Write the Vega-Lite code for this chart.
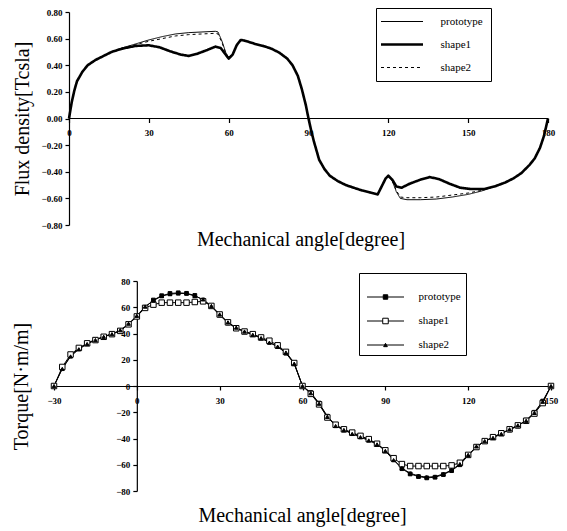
{
  "$schema": "https://vega.github.io/schema/vega-lite/v6.json",
  "background": "white",
  "padding": {"left": 11, "top": 7, "right": 5, "bottom": 2},
  "spacing": 22,
  "resolve": {"legend": {"shape": "independent", "strokeDash": "independent", "fill": "independent", "stroke": "independent"}},
  "config": {
    "view": {"stroke": null},
    "font": "Liberation Serif",
    "axis": {
      "domainColor": "black", "domainWidth": 1.2, "tickColor": "black", "tickWidth": 1.2, "tickSize": 4,
      "labelColor": "black", "labelFont": "Liberation Serif", "labelFontSize": 9, "labelFontWeight": "bold",
      "titleColor": "black", "titleFont": "Liberation Serif", "titleFontSize": 20, "titleFontWeight": "normal",
      "grid": false, "labelFlush": false, "labelOverlap": false
    },
    "legend": {
      "labelFont": "Liberation Serif", "labelFontSize": 11, "labelColor": "black",
      "strokeColor": "black", "fillColor": "white", "padding": 8, "rowPadding": 11
    },
    "title": {"font": "Liberation Serif", "fontSize": 20, "fontWeight": "normal", "color": "black"}
  },
  "datasets": {
    "axisline": [{"angle": 0, "angle2": 180, "B": 0}],
    "flux": [
      {"angle":0,"B":0,"series":"prototype"},{"angle":1,"B":0.12,"series":"prototype"},{"angle":2,"B":0.21,"series":"prototype"},{"angle":3,"B":0.28,"series":"prototype"},{"angle":5,"B":0.35,"series":"prototype"},{"angle":7,"B":0.40,"series":"prototype"},{"angle":10,"B":0.44,"series":"prototype"},{"angle":13,"B":0.47,"series":"prototype"},{"angle":16,"B":0.50,"series":"prototype"},{"angle":20,"B":0.53,"series":"prototype"},{"angle":25,"B":0.56,"series":"prototype"},{"angle":30,"B":0.59,"series":"prototype"},{"angle":35,"B":0.615,"series":"prototype"},{"angle":40,"B":0.635,"series":"prototype"},{"angle":45,"B":0.645,"series":"prototype"},{"angle":50,"B":0.65,"series":"prototype"},{"angle":55,"B":0.655,"series":"prototype"},{"angle":56,"B":0.65,"series":"prototype"},{"angle":57.5,"B":0.58,"series":"prototype"},{"angle":59,"B":0.49,"series":"prototype"},{"angle":60,"B":0.46,"series":"prototype"},{"angle":61.5,"B":0.485,"series":"prototype"},{"angle":63,"B":0.55,"series":"prototype"},{"angle":64.5,"B":0.59,"series":"prototype"},{"angle":66,"B":0.585,"series":"prototype"},{"angle":70,"B":0.56,"series":"prototype"},{"angle":73,"B":0.545,"series":"prototype"},{"angle":76,"B":0.525,"series":"prototype"},{"angle":79,"B":0.495,"series":"prototype"},{"angle":82,"B":0.45,"series":"prototype"},{"angle":84,"B":0.40,"series":"prototype"},{"angle":86,"B":0.32,"series":"prototype"},{"angle":87.5,"B":0.22,"series":"prototype"},{"angle":89,"B":0.10,"series":"prototype"},{"angle":90,"B":0,"series":"prototype"},{"angle":91,"B":-0.09,"series":"prototype"},{"angle":92,"B":-0.17,"series":"prototype"},{"angle":94,"B":-0.31,"series":"prototype"},{"angle":96,"B":-0.38,"series":"prototype"},{"angle":98,"B":-0.43,"series":"prototype"},{"angle":101,"B":-0.47,"series":"prototype"},{"angle":104,"B":-0.50,"series":"prototype"},{"angle":107,"B":-0.52,"series":"prototype"},{"angle":110,"B":-0.54,"series":"prototype"},{"angle":113,"B":-0.555,"series":"prototype"},{"angle":116,"B":-0.57,"series":"prototype"},{"angle":117.5,"B":-0.51,"series":"prototype"},{"angle":119,"B":-0.45,"series":"prototype"},{"angle":120,"B":-0.43,"series":"prototype"},{"angle":121.5,"B":-0.47,"series":"prototype"},{"angle":123,"B":-0.55,"series":"prototype"},{"angle":124.5,"B":-0.60,"series":"prototype"},{"angle":127,"B":-0.61,"series":"prototype"},{"angle":132,"B":-0.61,"series":"prototype"},{"angle":138,"B":-0.605,"series":"prototype"},{"angle":144,"B":-0.59,"series":"prototype"},{"angle":150,"B":-0.57,"series":"prototype"},{"angle":155,"B":-0.545,"series":"prototype"},{"angle":160,"B":-0.51,"series":"prototype"},{"angle":164,"B":-0.48,"series":"prototype"},{"angle":167,"B":-0.45,"series":"prototype"},{"angle":170,"B":-0.41,"series":"prototype"},{"angle":173,"B":-0.35,"series":"prototype"},{"angle":175,"B":-0.30,"series":"prototype"},{"angle":177,"B":-0.22,"series":"prototype"},{"angle":178.5,"B":-0.13,"series":"prototype"},{"angle":180,"B":0,"series":"prototype"},
      {"angle":0,"B":0,"series":"shape1"},{"angle":1,"B":0.12,"series":"shape1"},{"angle":2,"B":0.21,"series":"shape1"},{"angle":3,"B":0.28,"series":"shape1"},{"angle":5,"B":0.35,"series":"shape1"},{"angle":7,"B":0.40,"series":"shape1"},{"angle":10,"B":0.44,"series":"shape1"},{"angle":13,"B":0.47,"series":"shape1"},{"angle":16,"B":0.50,"series":"shape1"},{"angle":20,"B":0.525,"series":"shape1"},{"angle":25,"B":0.545,"series":"shape1"},{"angle":30,"B":0.55,"series":"shape1"},{"angle":34,"B":0.535,"series":"shape1"},{"angle":38,"B":0.505,"series":"shape1"},{"angle":42,"B":0.48,"series":"shape1"},{"angle":45,"B":0.47,"series":"shape1"},{"angle":48,"B":0.485,"series":"shape1"},{"angle":52,"B":0.515,"series":"shape1"},{"angle":55,"B":0.54,"series":"shape1"},{"angle":57,"B":0.53,"series":"shape1"},{"angle":58.5,"B":0.49,"series":"shape1"},{"angle":60,"B":0.45,"series":"shape1"},{"angle":61.5,"B":0.48,"series":"shape1"},{"angle":63,"B":0.55,"series":"shape1"},{"angle":64.5,"B":0.59,"series":"shape1"},{"angle":66,"B":0.585,"series":"shape1"},{"angle":70,"B":0.56,"series":"shape1"},{"angle":73,"B":0.545,"series":"shape1"},{"angle":76,"B":0.525,"series":"shape1"},{"angle":79,"B":0.495,"series":"shape1"},{"angle":82,"B":0.45,"series":"shape1"},{"angle":84,"B":0.40,"series":"shape1"},{"angle":86,"B":0.32,"series":"shape1"},{"angle":87.5,"B":0.22,"series":"shape1"},{"angle":89,"B":0.10,"series":"shape1"},{"angle":90,"B":0,"series":"shape1"},{"angle":91,"B":-0.09,"series":"shape1"},{"angle":92,"B":-0.17,"series":"shape1"},{"angle":94,"B":-0.31,"series":"shape1"},{"angle":96,"B":-0.38,"series":"shape1"},{"angle":98,"B":-0.43,"series":"shape1"},{"angle":101,"B":-0.47,"series":"shape1"},{"angle":104,"B":-0.50,"series":"shape1"},{"angle":107,"B":-0.52,"series":"shape1"},{"angle":110,"B":-0.54,"series":"shape1"},{"angle":113,"B":-0.555,"series":"shape1"},{"angle":116,"B":-0.57,"series":"shape1"},{"angle":117.5,"B":-0.51,"series":"shape1"},{"angle":119,"B":-0.45,"series":"shape1"},{"angle":120,"B":-0.43,"series":"shape1"},{"angle":121.5,"B":-0.46,"series":"shape1"},{"angle":123,"B":-0.51,"series":"shape1"},{"angle":125,"B":-0.52,"series":"shape1"},{"angle":128,"B":-0.49,"series":"shape1"},{"angle":132,"B":-0.46,"series":"shape1"},{"angle":135.5,"B":-0.44,"series":"shape1"},{"angle":139,"B":-0.455,"series":"shape1"},{"angle":143,"B":-0.49,"series":"shape1"},{"angle":147,"B":-0.52,"series":"shape1"},{"angle":151,"B":-0.53,"series":"shape1"},{"angle":156,"B":-0.53,"series":"shape1"},{"angle":160,"B":-0.51,"series":"shape1"},{"angle":164,"B":-0.48,"series":"shape1"},{"angle":167,"B":-0.45,"series":"shape1"},{"angle":170,"B":-0.41,"series":"shape1"},{"angle":173,"B":-0.35,"series":"shape1"},{"angle":175,"B":-0.30,"series":"shape1"},{"angle":177,"B":-0.22,"series":"shape1"},{"angle":178.5,"B":-0.13,"series":"shape1"},{"angle":180,"B":0,"series":"shape1"},
      {"angle":0,"B":0,"series":"shape2"},{"angle":1,"B":0.12,"series":"shape2"},{"angle":2,"B":0.21,"series":"shape2"},{"angle":3,"B":0.28,"series":"shape2"},{"angle":5,"B":0.35,"series":"shape2"},{"angle":7,"B":0.40,"series":"shape2"},{"angle":10,"B":0.44,"series":"shape2"},{"angle":13,"B":0.47,"series":"shape2"},{"angle":16,"B":0.50,"series":"shape2"},{"angle":20,"B":0.53,"series":"shape2"},{"angle":25,"B":0.555,"series":"shape2"},{"angle":30,"B":0.58,"series":"shape2"},{"angle":35,"B":0.60,"series":"shape2"},{"angle":40,"B":0.62,"series":"shape2"},{"angle":45,"B":0.63,"series":"shape2"},{"angle":50,"B":0.635,"series":"shape2"},{"angle":55,"B":0.64,"series":"shape2"},{"angle":56,"B":0.635,"series":"shape2"},{"angle":57.5,"B":0.57,"series":"shape2"},{"angle":59,"B":0.485,"series":"shape2"},{"angle":60,"B":0.455,"series":"shape2"},{"angle":61.5,"B":0.48,"series":"shape2"},{"angle":63,"B":0.55,"series":"shape2"},{"angle":64.5,"B":0.59,"series":"shape2"},{"angle":66,"B":0.585,"series":"shape2"},{"angle":70,"B":0.56,"series":"shape2"},{"angle":73,"B":0.545,"series":"shape2"},{"angle":76,"B":0.525,"series":"shape2"},{"angle":79,"B":0.495,"series":"shape2"},{"angle":82,"B":0.45,"series":"shape2"},{"angle":84,"B":0.40,"series":"shape2"},{"angle":86,"B":0.32,"series":"shape2"},{"angle":87.5,"B":0.22,"series":"shape2"},{"angle":89,"B":0.10,"series":"shape2"},{"angle":90,"B":0,"series":"shape2"},{"angle":91,"B":-0.09,"series":"shape2"},{"angle":92,"B":-0.17,"series":"shape2"},{"angle":94,"B":-0.31,"series":"shape2"},{"angle":96,"B":-0.38,"series":"shape2"},{"angle":98,"B":-0.43,"series":"shape2"},{"angle":101,"B":-0.47,"series":"shape2"},{"angle":104,"B":-0.50,"series":"shape2"},{"angle":107,"B":-0.52,"series":"shape2"},{"angle":110,"B":-0.54,"series":"shape2"},{"angle":113,"B":-0.555,"series":"shape2"},{"angle":116,"B":-0.57,"series":"shape2"},{"angle":117.5,"B":-0.51,"series":"shape2"},{"angle":119,"B":-0.45,"series":"shape2"},{"angle":120,"B":-0.435,"series":"shape2"},{"angle":121.5,"B":-0.47,"series":"shape2"},{"angle":123,"B":-0.54,"series":"shape2"},{"angle":124.5,"B":-0.59,"series":"shape2"},{"angle":127,"B":-0.595,"series":"shape2"},{"angle":132,"B":-0.595,"series":"shape2"},{"angle":138,"B":-0.59,"series":"shape2"},{"angle":144,"B":-0.575,"series":"shape2"},{"angle":150,"B":-0.56,"series":"shape2"},{"angle":155,"B":-0.54,"series":"shape2"},{"angle":160,"B":-0.51,"series":"shape2"},{"angle":164,"B":-0.48,"series":"shape2"},{"angle":167,"B":-0.45,"series":"shape2"},{"angle":170,"B":-0.41,"series":"shape2"},{"angle":173,"B":-0.35,"series":"shape2"},{"angle":175,"B":-0.30,"series":"shape2"},{"angle":177,"B":-0.22,"series":"shape2"},{"angle":178.5,"B":-0.13,"series":"shape2"},{"angle":180,"B":0,"series":"shape2"}
    ],
    "torque": [
      {"angle":-30,"T":0,"series":"prototype"},{"angle":-27,"T":13.5,"series":"prototype"},{"angle":-24,"T":23,"series":"prototype"},{"angle":-21,"T":28.5,"series":"prototype"},{"angle":-18,"T":32.5,"series":"prototype"},{"angle":-15,"T":35.5,"series":"prototype"},{"angle":-12,"T":37.5,"series":"prototype"},{"angle":-9,"T":40,"series":"prototype"},{"angle":-6,"T":42,"series":"prototype"},{"angle":-3,"T":47,"series":"prototype"},{"angle":0,"T":53,"series":"prototype"},{"angle":3,"T":60,"series":"prototype"},{"angle":6,"T":65.5,"series":"prototype"},{"angle":9,"T":68.8,"series":"prototype"},{"angle":12,"T":70.5,"series":"prototype"},{"angle":15,"T":71,"series":"prototype"},{"angle":18,"T":70.6,"series":"prototype"},{"angle":21,"T":69,"series":"prototype"},{"angle":24,"T":65.5,"series":"prototype"},{"angle":27,"T":60.5,"series":"prototype"},{"angle":30,"T":54,"series":"prototype"},{"angle":33,"T":48,"series":"prototype"},{"angle":36,"T":44,"series":"prototype"},{"angle":39,"T":41.5,"series":"prototype"},{"angle":42,"T":39.5,"series":"prototype"},{"angle":45,"T":36.5,"series":"prototype"},{"angle":48,"T":33.5,"series":"prototype"},{"angle":51,"T":30,"series":"prototype"},{"angle":54,"T":25,"series":"prototype"},{"angle":57,"T":17,"series":"prototype"},{"angle":60,"T":0,"series":"prototype"},{"angle":63,"T":-5,"series":"prototype"},{"angle":66,"T":-13,"series":"prototype"},{"angle":69,"T":-23,"series":"prototype"},{"angle":72,"T":-30,"series":"prototype"},{"angle":75,"T":-33.5,"series":"prototype"},{"angle":78,"T":-36,"series":"prototype"},{"angle":81,"T":-38.5,"series":"prototype"},{"angle":84,"T":-41,"series":"prototype"},{"angle":87,"T":-44,"series":"prototype"},{"angle":90,"T":-49,"series":"prototype"},{"angle":93,"T":-56,"series":"prototype"},{"angle":96,"T":-63,"series":"prototype"},{"angle":99,"T":-67,"series":"prototype"},{"angle":102,"T":-69,"series":"prototype"},{"angle":105,"T":-70,"series":"prototype"},{"angle":108,"T":-69.5,"series":"prototype"},{"angle":111,"T":-67.5,"series":"prototype"},{"angle":114,"T":-64.5,"series":"prototype"},{"angle":117,"T":-60,"series":"prototype"},{"angle":120,"T":-53,"series":"prototype"},{"angle":123,"T":-46.5,"series":"prototype"},{"angle":126,"T":-42,"series":"prototype"},{"angle":129,"T":-39,"series":"prototype"},{"angle":132,"T":-36,"series":"prototype"},{"angle":135,"T":-33.5,"series":"prototype"},{"angle":138,"T":-30.5,"series":"prototype"},{"angle":141,"T":-26,"series":"prototype"},{"angle":144,"T":-20,"series":"prototype"},{"angle":147,"T":-11.5,"series":"prototype"},{"angle":150,"T":0,"series":"prototype"},
      {"angle":-30,"T":0,"series":"shape1"},{"angle":-27,"T":14.5,"series":"shape1"},{"angle":-24,"T":24,"series":"shape1"},{"angle":-21,"T":29,"series":"shape1"},{"angle":-18,"T":32.5,"series":"shape1"},{"angle":-15,"T":35,"series":"shape1"},{"angle":-12,"T":37.5,"series":"shape1"},{"angle":-9,"T":39.5,"series":"shape1"},{"angle":-6,"T":42,"series":"shape1"},{"angle":-3,"T":47,"series":"shape1"},{"angle":0,"T":53,"series":"shape1"},{"angle":3,"T":59.5,"series":"shape1"},{"angle":6,"T":62,"series":"shape1"},{"angle":9,"T":63.5,"series":"shape1"},{"angle":12,"T":63.5,"series":"shape1"},{"angle":15,"T":63.5,"series":"shape1"},{"angle":18,"T":63.5,"series":"shape1"},{"angle":21,"T":64,"series":"shape1"},{"angle":24,"T":64.5,"series":"shape1"},{"angle":27,"T":61,"series":"shape1"},{"angle":30,"T":54.5,"series":"shape1"},{"angle":33,"T":48.5,"series":"shape1"},{"angle":36,"T":44,"series":"shape1"},{"angle":39,"T":41.5,"series":"shape1"},{"angle":42,"T":39.5,"series":"shape1"},{"angle":45,"T":37,"series":"shape1"},{"angle":48,"T":34.5,"series":"shape1"},{"angle":51,"T":31,"series":"shape1"},{"angle":54,"T":26,"series":"shape1"},{"angle":57,"T":17.5,"series":"shape1"},{"angle":60,"T":0,"series":"shape1"},{"angle":63,"T":-6,"series":"shape1"},{"angle":66,"T":-14,"series":"shape1"},{"angle":69,"T":-24,"series":"shape1"},{"angle":72,"T":-29.5,"series":"shape1"},{"angle":75,"T":-33,"series":"shape1"},{"angle":78,"T":-35.5,"series":"shape1"},{"angle":81,"T":-38,"series":"shape1"},{"angle":84,"T":-40.5,"series":"shape1"},{"angle":87,"T":-44,"series":"shape1"},{"angle":90,"T":-49,"series":"shape1"},{"angle":93,"T":-55,"series":"shape1"},{"angle":96,"T":-59.5,"series":"shape1"},{"angle":99,"T":-61,"series":"shape1"},{"angle":102,"T":-61,"series":"shape1"},{"angle":105,"T":-61,"series":"shape1"},{"angle":108,"T":-61,"series":"shape1"},{"angle":111,"T":-61,"series":"shape1"},{"angle":114,"T":-60.5,"series":"shape1"},{"angle":117,"T":-58.5,"series":"shape1"},{"angle":120,"T":-52.5,"series":"shape1"},{"angle":123,"T":-46.5,"series":"shape1"},{"angle":126,"T":-42,"series":"shape1"},{"angle":129,"T":-39,"series":"shape1"},{"angle":132,"T":-36,"series":"shape1"},{"angle":135,"T":-33,"series":"shape1"},{"angle":138,"T":-30,"series":"shape1"},{"angle":141,"T":-26.5,"series":"shape1"},{"angle":144,"T":-21,"series":"shape1"},{"angle":147,"T":-13,"series":"shape1"},{"angle":150,"T":0,"series":"shape1"},
      {"angle":-30,"T":0,"series":"shape2"},{"angle":-27,"T":13,"series":"shape2"},{"angle":-24,"T":22.5,"series":"shape2"},{"angle":-21,"T":28,"series":"shape2"},{"angle":-18,"T":32,"series":"shape2"},{"angle":-15,"T":35,"series":"shape2"},{"angle":-12,"T":37.5,"series":"shape2"},{"angle":-9,"T":39.5,"series":"shape2"},{"angle":-6,"T":42.5,"series":"shape2"},{"angle":-3,"T":47.5,"series":"shape2"},{"angle":0,"T":53.5,"series":"shape2"},{"angle":3,"T":60.5,"series":"shape2"},{"angle":6,"T":65,"series":"shape2"},{"angle":9,"T":68.5,"series":"shape2"},{"angle":12,"T":70,"series":"shape2"},{"angle":15,"T":70.5,"series":"shape2"},{"angle":18,"T":70.5,"series":"shape2"},{"angle":21,"T":68.5,"series":"shape2"},{"angle":24,"T":66,"series":"shape2"},{"angle":27,"T":61,"series":"shape2"},{"angle":30,"T":54.5,"series":"shape2"},{"angle":33,"T":48.5,"series":"shape2"},{"angle":36,"T":44.5,"series":"shape2"},{"angle":39,"T":41.5,"series":"shape2"},{"angle":42,"T":39,"series":"shape2"},{"angle":45,"T":36.5,"series":"shape2"},{"angle":48,"T":33,"series":"shape2"},{"angle":51,"T":30,"series":"shape2"},{"angle":54,"T":25.5,"series":"shape2"},{"angle":57,"T":17,"series":"shape2"},{"angle":60,"T":0,"series":"shape2"},{"angle":63,"T":-5.5,"series":"shape2"},{"angle":66,"T":-13.5,"series":"shape2"},{"angle":69,"T":-23.5,"series":"shape2"},{"angle":72,"T":-30.5,"series":"shape2"},{"angle":75,"T":-33.5,"series":"shape2"},{"angle":78,"T":-36.5,"series":"shape2"},{"angle":81,"T":-39,"series":"shape2"},{"angle":84,"T":-41.5,"series":"shape2"},{"angle":87,"T":-44.5,"series":"shape2"},{"angle":90,"T":-49.5,"series":"shape2"},{"angle":93,"T":-56.5,"series":"shape2"},{"angle":96,"T":-62.5,"series":"shape2"},{"angle":99,"T":-66.5,"series":"shape2"},{"angle":102,"T":-68.5,"series":"shape2"},{"angle":105,"T":-69.5,"series":"shape2"},{"angle":108,"T":-69,"series":"shape2"},{"angle":111,"T":-67,"series":"shape2"},{"angle":114,"T":-64,"series":"shape2"},{"angle":117,"T":-59.5,"series":"shape2"},{"angle":120,"T":-52.5,"series":"shape2"},{"angle":123,"T":-46,"series":"shape2"},{"angle":126,"T":-42,"series":"shape2"},{"angle":129,"T":-39.5,"series":"shape2"},{"angle":132,"T":-36.5,"series":"shape2"},{"angle":135,"T":-33,"series":"shape2"},{"angle":138,"T":-30,"series":"shape2"},{"angle":141,"T":-26.5,"series":"shape2"},{"angle":144,"T":-20.5,"series":"shape2"},{"angle":147,"T":-12,"series":"shape2"},{"angle":150,"T":0,"series":"shape2"}
    ]
  },
  "vconcat": [
    {
      "width": 494,
      "height": 213,
      "title": {"text": "Mechanical angle[degree]", "orient": "bottom", "offset": 0},
      "encoding": {
        "x": {
          "field": "angle", "type": "quantitative",
          "scale": {"domain": [-5.64, 180], "nice": false, "zero": false},
          "axis": {"values": [0, 30, 60, 90, 120, 150, 180], "offset": -106.5, "title": null, "labelPadding": 6, "domain": false}
        },
        "y": {
          "field": "B", "type": "quantitative",
          "scale": {"domain": [-0.8, 0.8], "nice": false},
          "axis": {"values": [-0.8, -0.6, -0.4, -0.2, 0, 0.2, 0.4, 0.6, 0.8], "format": ".2f", "title": "Flux density[Tcsla]", "titleX": -37, "labelPadding": 3, "offset": -15}
        }
      },
      "layer": [
        {
          "data": {"name": "axisline"},
          "mark": {"type": "rule", "color": "black", "strokeWidth": 1.2},
          "encoding": {"x2": {"field": "angle2"}}
        },
        {
          "data": {"name": "flux"},
          "mark": {"type": "line", "color": "black", "strokeJoin": "round"},
          "encoding": {
            "strokeDash": {
              "field": "series", "type": "nominal",
              "scale": {"domain": ["prototype", "shape1", "shape2"], "range": [[1, 0], [1, 0], [3, 3]]},
              "legend": {
                "title": null, "orient": "none", "legendX": 322, "legendY": -4,
                "symbolType": "M-1,0H1", "symbolSize": 1764, "symbolStrokeColor": "black", "symbolStrokeWidth": 1,
                "symbolOffset": 12.5, "labelOffset": 33,
                "encode": {"symbols": {"update": {
                  "shape": {"value": "M-1,0H1"},
                  "size": {"value": 1764},
                  "stroke": {"value": "black"},
                  "strokeWidth": {"signal": "datum.value === 'shape1' ? 2.6 : 1"}
                }}}
              }
            },
            "strokeWidth": {"condition": {"test": "datum.series === 'shape1'", "value": 2.6}, "value": 1}
          }
        }
      ]
    },
    {
      "width": 497,
      "height": 210,
      "title": {"text": "Mechanical angle[degree]", "orient": "bottom", "offset": 10},
      "data": {"name": "torque"},
      "encoding": {
        "x": {
          "field": "angle", "type": "quantitative",
          "scale": {"domain": [-30, 150], "nice": false, "zero": false},
          "axis": {"values": [-30, 0, 30, 60, 90, 120, 150], "offset": -105, "title": null, "labelPadding": 6}
        },
        "y": {
          "field": "T", "type": "quantitative",
          "scale": {"domain": [-80, 80], "nice": false},
          "axis": {"values": [-80, -60, -40, -20, 0, 20, 40, 60, 80], "offset": -82.83, "title": "Torque[N·m/m]", "titleX": -105, "labelPadding": 3}
        }
      },
      "layer": [
        {
          "mark": {"type": "line", "color": "black", "strokeWidth": 1},
          "encoding": {"detail": {"field": "series", "type": "nominal"}}
        },
        {
          "mark": {"type": "point", "filled": true, "opacity": 1, "strokeWidth": 1},
          "encoding": {
            "shape": {"condition": {"test": "datum.series === 'shape2'", "value": "triangle-up"}, "value": "square"},
            "size": {"condition": {"test": "datum.series === 'shape1'", "value": 30}, "value": 14},
            "fill": {"condition": {"test": "datum.series === 'shape1'", "value": "white"}, "value": "black"},
            "stroke": {"value": "black"}
          }
        },
        {
          "mark": {"type": "point", "filled": false, "opacity": 0, "size": 1369, "color": "black", "strokeWidth": 1},
          "encoding": {
            "shape": {
              "field": "series", "type": "nominal",
              "scale": {
                "domain": ["prototype", "shape1", "shape2"],
                "range": [
                  "M-1,0H1M-0.12,-0.12H0.12V0.12H-0.12Z",
                  "M-1,0H-0.15M0.15,0H1M-0.15,-0.15H0.15V0.15H-0.15Z",
                  "M-1,0H1M-0.1,0.09L0,-0.09L0.1,0.09Z"
                ]
              },
              "legend": {
                "title": null, "orient": "none", "legendX": 305, "legendY": -8, "padding": 5, "rowPadding": 0,
                "symbolSize": 1369, "symbolOffset": 2.5, "labelOffset": 14, "symbolOpacity": 1,
                "symbolStrokeColor": "black", "symbolStrokeWidth": 1
              }
            },
            "fill": {
              "field": "series", "type": "nominal",
              "scale": {"domain": ["prototype", "shape1", "shape2"], "range": ["black", "white", "black"]},
              "legend": {
                "title": null, "orient": "none", "legendX": 305, "legendY": -8, "padding": 5, "rowPadding": 0,
                "symbolSize": 1369, "symbolOffset": 2.5, "labelOffset": 14, "symbolOpacity": 1,
                "symbolStrokeColor": "black", "symbolStrokeWidth": 1
              }
            },
            "stroke": {
              "field": "series", "type": "nominal",
              "scale": {"domain": ["prototype", "shape1", "shape2"], "range": ["black", "black", "black"]},
              "legend": {
                "title": null, "orient": "none", "legendX": 305, "legendY": -8, "padding": 5, "rowPadding": 0,
                "symbolSize": 1369, "symbolOffset": 2.5, "labelOffset": 14, "symbolOpacity": 1,
                "symbolStrokeColor": "black", "symbolStrokeWidth": 1
              }
            }
          }
        }
      ]
    }
  ]
}
